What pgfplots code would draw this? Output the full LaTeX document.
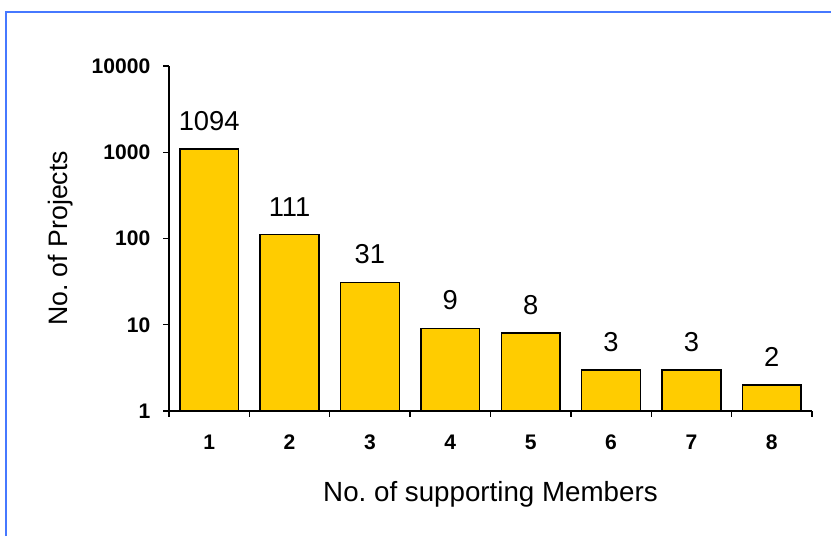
\documentclass[border=0pt]{standalone}
\usepackage{fontspec}
\setmainfont{Liberation Sans}
\usepackage{pgfplots}
\pgfplotsset{compat=1.18}
\definecolor{barfill}{HTML}{FFCC00}
\definecolor{framecol}{RGB}{70,120,255}
\frenchspacing
\begin{document}
\begin{tikzpicture}
% picture is 831 x 536 px, 1 px = 0.75pt
\useasboundingbox (0,0) rectangle (623.25pt,402pt);
\draw[framecol, line width=1.8pt] (4.5pt,0) -- (4.5pt,393pt) -- (623.25pt,393pt);
\begin{axis}[
    at={(126.75pt,93.75pt)}, anchor=south west,
    scale only axis, width=482.25pt, height=258.75pt,
    ybar, bar width=0.73,
    xmin=0.5, xmax=8.5,
    ymode=log, ymin=1, ymax=10000, log origin=infty,
    axis x line*=bottom, axis y line*=left,
    axis line style={black, line width=1pt},
    tick align=outside,
    xtick={1,2,3,4,5,6,7,8},
    xticklabels={1,2,3,4,5,6,7,8},
    major x tick style={draw=none},
    minor xtick={0.5,1.5,2.5,3.5,4.5,5.5,6.5,7.5,8.5},
    minor x tick style={black, line width=1pt},
    minor tick length=4.5pt,
    ytick={1,10,100,1000,10000},
    yticklabels={1,10,100,1000,10000},
    yminorticks=false,
    major y tick style={black, line width=1pt},
    major tick length=4.5pt,
    ticklabel style={font=\bfseries\fontsize{15.8}{18}\selectfont},
    xticklabel style={yshift=-10pt},
    yticklabel style={xshift=-6pt},
    xlabel={No.\ of supporting Members},
    ylabel={No.\ of Projects},
    label style={font=\fontsize{20}{24}\selectfont},
    xlabel style={yshift=-17pt, font=\fontsize{20.8}{24}\selectfont},
    ylabel style={yshift=7pt},
    nodes near coords,
    point meta=explicit symbolic,
    every node near coord/.append style={font=\fontsize{20.5}{24}\selectfont, black, yshift=10pt},
]
\addplot[fill=barfill, draw=black, line width=1.1pt] coordinates {
    (1,1094) [1094]
    (2,111) [111]
    (3,31) [31]
    (4,9) [9]
    (5,8) [8]
    (6,3) [3]
    (7,3) [3]
    (8,2) [2]
};
\end{axis}
\end{tikzpicture}
\end{document}
